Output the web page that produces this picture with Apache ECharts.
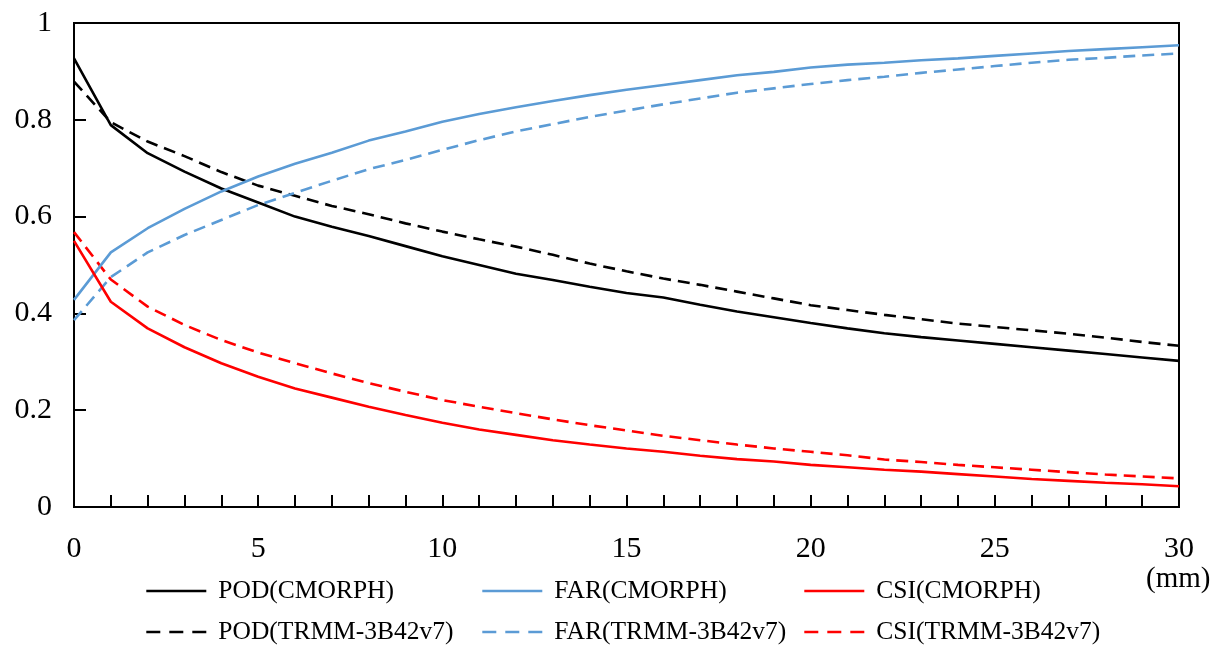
<!DOCTYPE html>
<html lang="en">

<head>
  <meta charset="UTF-8">
  <script src="https://cdn.jsdelivr.net/npm/echarts@6/dist/echarts.min.js"></script>
  <style>
    body { margin: 0; background: #fff; }
  </style>
</head>

<body>
  <div id="main" style="width: 1223px;height:653px;"></div>
  <script type="text/javascript">

    // 阈值 (mm)
    const thresholds = [0, 1, 2, 3, 4, 5, 6, 7, 8, 9, 10, 11, 12, 13, 14, 15, 16, 17, 18, 19, 20, 21, 22, 23, 24, 25, 26, 27, 28, 29, 30];

    const podCmorph = [0.927, 0.789, 0.731, 0.693, 0.658, 0.629, 0.600, 0.579, 0.560, 0.539, 0.518, 0.500, 0.482, 0.469, 0.455, 0.442, 0.433, 0.418, 0.404, 0.392, 0.380, 0.369, 0.359, 0.351, 0.344, 0.337, 0.330, 0.323, 0.316, 0.309, 0.302];
    const farCmorph = [0.428, 0.526, 0.576, 0.616, 0.652, 0.683, 0.709, 0.732, 0.757, 0.776, 0.796, 0.812, 0.826, 0.839, 0.851, 0.862, 0.872, 0.882, 0.892, 0.899, 0.908, 0.914, 0.918, 0.923, 0.927, 0.932, 0.937, 0.942, 0.946, 0.950, 0.954];
    const csiCmorph = [0.550, 0.424, 0.369, 0.330, 0.297, 0.269, 0.245, 0.226, 0.207, 0.190, 0.174, 0.160, 0.149, 0.138, 0.129, 0.121, 0.114, 0.106, 0.099, 0.094, 0.087, 0.082, 0.077, 0.073, 0.068, 0.063, 0.058, 0.054, 0.050, 0.047, 0.043];

    const podTrmm = [0.879, 0.795, 0.755, 0.725, 0.692, 0.664, 0.643, 0.622, 0.605, 0.586, 0.569, 0.553, 0.538, 0.521, 0.503, 0.487, 0.472, 0.459, 0.445, 0.431, 0.417, 0.407, 0.397, 0.388, 0.379, 0.372, 0.365, 0.358, 0.350, 0.341, 0.333];
    const farTrmm = [0.386, 0.475, 0.526, 0.562, 0.593, 0.624, 0.649, 0.674, 0.698, 0.717, 0.738, 0.758, 0.776, 0.791, 0.806, 0.819, 0.832, 0.844, 0.856, 0.865, 0.874, 0.882, 0.889, 0.897, 0.904, 0.911, 0.918, 0.924, 0.928, 0.933, 0.937];
    const csiTrmm = [0.568, 0.470, 0.414, 0.376, 0.345, 0.319, 0.297, 0.276, 0.256, 0.238, 0.221, 0.207, 0.194, 0.181, 0.169, 0.158, 0.147, 0.138, 0.129, 0.121, 0.114, 0.107, 0.098, 0.093, 0.087, 0.082, 0.077, 0.072, 0.067, 0.063, 0.059];

    const font = '"Liberation Serif", "Times New Roman", serif';
    const black = '#000';
    const blue = '#5b9bd5';
    const red = '#ff0000';
    const dash = [12, 7];

    function pairs(ys) {
      return thresholds.map((x, i) => [x, ys[i]]);
    }

    function line(name, ys, color, dashed) {
      return {
        name: name,
        type: 'line',
        data: pairs(ys),
        symbol: 'none',
        lineStyle: { color: color, width: 2.6, type: dashed ? dash : 'solid' },
        itemStyle: { color: color },
        z: dashed ? 2 : 3
      };
    }

    // 每个图例单独放置，3列×2行
    function legendItem(left, top, name, dashed) {
      return {
        left: left,
        top: top,
        padding: 0,
        itemWidth: 60,
        itemHeight: 14,
        data: [name],
        itemStyle: { opacity: 0 },
        lineStyle: { width: 2.6, type: dashed ? [14, 9] : 'solid' },
        textStyle: { fontFamily: font, fontSize: 25.5, color: black, lineHeight: 28, padding: [0, 0, 0, 7] }
      };
    }

    var myChart = echarts.init(document.getElementById('main'));
    myChart.setOption({
      animation: false,
      grid: {
        left: 74, right: 44, top: 23, bottom: 146,
        show: true, borderColor: black, borderWidth: 2, backgroundColor: 'transparent'
      },
      legend: [
        legendItem(145, 577, 'POD(CMORPH)', false),
        legendItem(145, 618, 'POD(TRMM-3B42v7)', true),
        legendItem(481, 577, 'FAR(CMORPH)', false),
        legendItem(481, 618, 'FAR(TRMM-3B42v7)', true),
        legendItem(803, 577, 'CSI(CMORPH)', false),
        legendItem(803, 618, 'CSI(TRMM-3B42v7)', true)
      ],
      xAxis: {
        type: 'value',
        min: 0, max: 30, interval: 1,
        axisLine: { lineStyle: { color: black, width: 2 } },
        axisTick: { inside: true, length: 12, lineStyle: { color: black, width: 2 } },
        axisLabel: {
          margin: 27, fontFamily: font, fontSize: 30, color: black,
          formatter: v => (v % 5 === 0 ? String(v) : '')
        },
        splitLine: { show: false }
      },
      yAxis: {
        type: 'value',
        min: 0, max: 1, interval: 0.2,
        axisLine: { show: true, lineStyle: { color: black, width: 2 } },
        axisTick: { show: true, inside: true, length: 12, lineStyle: { color: black, width: 2 } },
        axisLabel: { margin: 22, fontFamily: font, fontSize: 30, color: black },
        splitLine: { show: false }
      },
      graphic: [{
        type: 'text',
        left: 1146,
        top: 565,
        style: { text: '(mm)', fontFamily: font, fontSize: 29, fill: black }
      }],
      series: [
        line('POD(CMORPH)', podCmorph, black, false),
        line('FAR(CMORPH)', farCmorph, blue, false),
        line('CSI(CMORPH)', csiCmorph, red, false),
        line('POD(TRMM-3B42v7)', podTrmm, black, true),
        line('FAR(TRMM-3B42v7)', farTrmm, blue, true),
        line('CSI(TRMM-3B42v7)', csiTrmm, red, true)
      ]
    });

  </script>
</body>

</html>
